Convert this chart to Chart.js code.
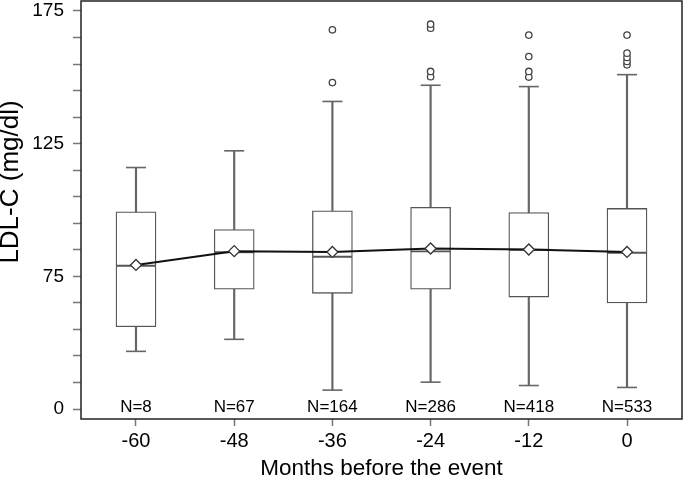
<!DOCTYPE html>
<html lang="en">
<head>
    <meta charset="UTF-8">
    <title>LDL-C before the event</title>
    <script src="https://cdnjs.cloudflare.com/ajax/libs/Chart.js/4.4.0/chart.umd.min.js"></script>
    <style>
        body { margin: 0; background: #fff; }
        .graph-container { width: 685px; height: 480px; }
    </style>
</head>
<body>
    <div class="graph-container">
        <canvas id="graphLdl"></canvas>
    </div>

    <script>
        // months before the event
        const months = [-60, -48, -36, -24, -12, 0];
        const counts = [8, 67, 164, 286, 418, 533];

        // box plot values (mg/dl)
        const whiskerLow = [32.6, 39.4, 10.7, 15.2, 13.3, 12.2];
        const q1 = [46.5, 67.7, 65.4, 67.7, 63.3, 60.0];
        const median = [79.0, 84.1, 82.4, 84.4, 85.0, 83.9];
        const q3 = [99.3, 92.6, 99.7, 101.0, 99.0, 100.6];
        const whiskerHigh = [116.0, 122.3, 140.9, 147.0, 146.5, 151.0];
        const means = [79.3, 84.5, 84.2, 85.5, 85.1, 84.2];

        // outliers per time point
        const outliers = [
            [],
            [],
            [148.0, 167.9],
            [150.2, 152.2, 168.5, 170.0],
            [150.1, 152.2, 157.8, 165.9],
            [154.7, 156.0, 157.5, 159.1, 165.9]
        ];

        // y axis ticks (the axis is spaced differently below and above 75)
        const yTicks = [0, 15, 30, 45, 60, 75, 85, 95, 105, 115, 125, 135, 145, 155, 165, 175];
        const yLabels = [0, 75, 125, 175];

        // axis spacing: 0-75 takes the same room as 75-125 and 125-175
        function toAxis(v) { return v <= 75 ? v * 2 / 3 : v - 25; }
        function fromAxis(u) { return u <= 50 ? u * 1.5 : u + 25; }

        class SplitScale extends Chart.LinearScale {
            getPixelForValue(value) {
                if (value === null || value === undefined) return NaN;
                const a = toAxis(this.min), b = toAxis(this.max);
                return this.getPixelForDecimal((toAxis(value) - a) / (b - a));
            }
            getValueForPixel(pixel) {
                const a = toAxis(this.min), b = toAxis(this.max);
                return fromAxis(a + this.getDecimalForPixel(pixel) * (b - a));
            }
        }
        SplitScale.id = 'split';
        SplitScale.defaults = Chart.LinearScale.defaults;
        Chart.register(SplitScale);

        const grey = '#666';
        const boxColor = '#555';
        const fontFamily = '"Liberation Sans", Arial, sans-serif';

        const lowerBox = months.map((m, i) => ({ x: m, y: [q1[i], median[i]] }));
        const upperBox = months.map((m, i) => ({ x: m, y: [median[i], q3[i]] }));
        const lowerWhisker = months.map((m, i) => ({ x: m, y: [whiskerLow[i], q1[i]] }));
        const upperWhisker = months.map((m, i) => ({ x: m, y: [q3[i], whiskerHigh[i]] }));
        const caps = [];
        months.forEach((m, i) => {
            caps.push({ x: m, y: whiskerLow[i] });
            caps.push({ x: m, y: whiskerHigh[i] });
        });
        const outlierPoints = [];
        months.forEach((m, i) => outliers[i].forEach(v => outlierPoints.push({ x: m, y: v })));
        const meanPoints = months.map((m, i) => ({ x: m, y: means[i] }));

        // frame around the plot, N= labels and the y title
        const framePlugin = {
            id: 'frame',
            afterDatasetsDraw(chart) {
                const { ctx, chartArea, scales } = chart;
                ctx.save();
                ctx.strokeStyle = '#222';
                ctx.lineWidth = 1.5;
                ctx.strokeRect(chartArea.left, chartArea.top, chartArea.right - chartArea.left, chartArea.bottom - chartArea.top);
                ctx.fillStyle = '#000';
                ctx.font = '17px ' + fontFamily;
                ctx.textAlign = 'center';
                ctx.textBaseline = 'middle';
                const y0 = scales.y.getPixelForValue(0) - 2;
                months.forEach((m, i) => {
                    ctx.fillText('N=' + counts[i], scales.x.getPixelForValue(m), y0);
                });
                // y title sits a bit above the middle of the axis
                ctx.translate(11, chartArea.top + 181);
                ctx.rotate(-Math.PI / 2);
                ctx.font = '26px ' + fontFamily;
                ctx.fillText('LDL-C (mg/dl)', 0, 0);
                ctx.restore();
            }
        };

        new Chart(document.getElementById('graphLdl').getContext('2d'), {
            type: 'bar',
            data: {
                datasets: [
                    {
                        type: 'bar', data: lowerWhisker, backgroundColor: grey, borderWidth: 0,
                        barThickness: 1.5, grouped: false, order: 6
                    },
                    {
                        type: 'bar', data: upperWhisker, backgroundColor: grey, borderWidth: 0,
                        barThickness: 1.5, grouped: false, order: 6
                    },
                    {
                        type: 'scatter', data: caps, pointStyle: 'line', pointRadius: 10,
                        borderColor: grey, borderWidth: 1.6, order: 5
                    },
                    {
                        type: 'bar', data: lowerBox, backgroundColor: '#fff', borderColor: boxColor,
                        borderWidth: 1.3, borderSkipped: false, barThickness: 40, grouped: false, order: 4
                    },
                    {
                        type: 'bar', data: upperBox, backgroundColor: '#fff', borderColor: boxColor,
                        borderWidth: 1.3, borderSkipped: false, barThickness: 40, grouped: false, order: 3
                    },
                    {
                        type: 'scatter', data: outlierPoints, pointStyle: 'circle', pointRadius: 3.2,
                        backgroundColor: '#fff', borderColor: '#444', borderWidth: 1.3, order: 2
                    },
                    {
                        type: 'line', data: meanPoints, borderColor: '#111', borderWidth: 2,
                        tension: 0, pointStyle: 'rectRot', pointRadius: 5.5,
                        pointBackgroundColor: '#fff', pointBorderColor: '#333', pointBorderWidth: 1.3,
                        order: 1
                    }
                ]
            },
            options: {
                responsive: true,
                maintainAspectRatio: false,
                animation: false,
                events: [],
                layout: { autoPadding: false, padding: { top: 1, right: 3, left: 0, bottom: 0 } },
                plugins: {
                    legend: { display: false },
                    tooltip: { enabled: false }
                },
                scales: {
                    x: {
                        type: 'linear',
                        offset: false,
                        min: -66.72,
                        max: 6.72,
                        afterBuildTicks: axis => { axis.ticks = months.map(v => ({ value: v })); },
                        afterFit: axis => {
                            axis.height = 61;
                            axis.paddingLeft = 0;
                            axis.paddingRight = 0;
                        },
                        grid: {
                            offset: false, drawOnChartArea: false, drawTicks: true,
                            tickLength: 7, tickColor: '#777', tickWidth: 1.5
                        },
                        border: { display: false },
                        ticks: {
                            color: '#000',
                            padding: 3,
                            maxRotation: 0,
                            autoSkip: false,
                            font: { family: fontFamily, size: 20 }
                        },
                        title: {
                            display: true,
                            text: 'Months before the event',
                            color: '#000',
                            padding: { top: 0, bottom: 0 },
                            font: { family: fontFamily, size: 22.5, lineHeight: 1 }
                        }
                    },
                    y: {
                        type: 'split',
                        bounds: 'data',
                        min: -5.625,
                        max: 178.75,
                        afterBuildTicks: axis => { axis.ticks = yTicks.map(v => ({ value: v })); },
                        afterFit: axis => {
                            axis.width = 81;
                            axis.paddingTop = 0;
                            axis.paddingBottom = 0;
                        },
                        grid: {
                            drawOnChartArea: false, drawTicks: true,
                            tickLength: 8, tickColor: '#777', tickWidth: 1.5
                        },
                        border: { display: false },
                        ticks: {
                            color: '#000',
                            padding: 9,
                            autoSkip: false,
                            font: { family: fontFamily, size: 19 },
                            callback: value => yLabels.includes(value) ? String(value) : ''
                        }
                    }
                }
            },
            plugins: [framePlugin]
        });
    </script>
</body>
</html>
